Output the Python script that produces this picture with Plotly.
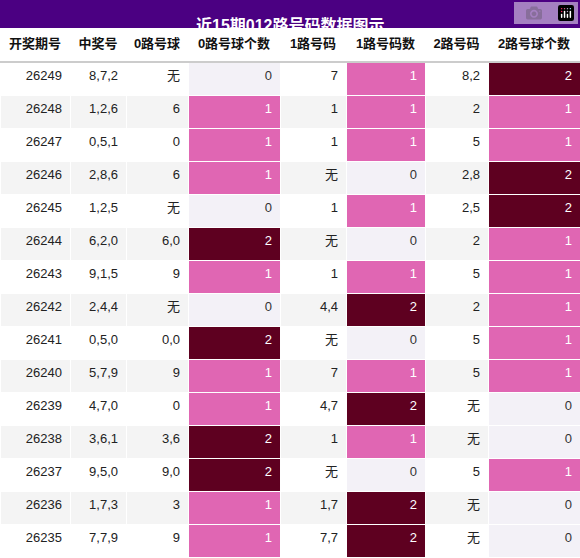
import plotly.graph_objects as go

issues = [str(n) for n in range(26249, 26234, -1)]
winning = ["8,7,2", "1,2,6", "0,5,1", "2,8,6", "1,2,5", "6,2,0", "9,1,5", "2,4,4",
           "0,5,0", "5,7,9", "4,7,0", "3,6,1", "9,5,0", "1,7,3", "7,7,9"]
route0 = ["无", "6", "0", "6", "无", "6,0", "9", "无", "0,0", "9", "0", "3,6", "9,0", "3", "9"]
count0 = [0, 1, 1, 1, 0, 2, 1, 0, 2, 1, 1, 2, 2, 1, 1]
route1 = ["7", "1", "1", "无", "1", "无", "1", "4,4", "无", "7", "4,7", "1", "无", "1,7", "7,7"]
count1 = [1, 1, 1, 0, 1, 0, 1, 2, 0, 1, 2, 1, 0, 2, 2]
route2 = ["8,2", "2", "5", "2,8", "2,5", "2", "5", "2", "5", "5", "无", "无", "5", "无", "无"]
count2 = [2, 1, 1, 2, 2, 1, 1, 1, 1, 1, 0, 0, 1, 0, 0]
headers = ["开奖期号", "中奖号", "0路号球", "0路号球个数", "1路号码", "1路号码数", "2路号码", "2路号球个数"]

row_bg = ["#ffffff" if i % 2 == 0 else "#f4f4f4" for i in range(len(issues))]
count_bg = {0: "#f3f1f7", 1: "#e066b3", 2: "#5e0020"}
count_fg = {0: "#333333", 1: "#ffffff", 2: "#ffffff"}
FONT = "Liberation Sans, Noto Sans CJK SC"


def fill(counts):
    return [count_bg[c] for c in counts]


def fg(counts):
    return [count_fg[c] for c in counts]


plain_fg = ["#222222"] * len(issues)

fig = go.Figure(go.Table(
    columnwidth=[70, 56, 62, 92, 66, 79, 63, 92],
    header=dict(
        values=["<b>%s</b>" % h for h in headers],
        fill_color="white", line_color="white",
        font=dict(family=FONT, size=13, color="#111111"),
        align="center", height=34,
    ),
    cells=dict(
        values=[issues, winning, route0, count0, route1, count1, route2, count2],
        fill_color=[row_bg, row_bg, row_bg, fill(count0), row_bg, fill(count1), row_bg, fill(count2)],
        font=dict(family=FONT, size=13,
                  color=[plain_fg, plain_fg, plain_fg, fg(count0), plain_fg, fg(count1), plain_fg, fg(count2)]),
        line_color="white", align="right", height=33,
    ),
    domain=dict(x=[0, 1], y=[0, 1 - 28 / 558]),
))

fig.add_shape(type="rect", xref="paper", yref="paper", x0=0, x1=1, y0=1 - 28 / 558, y1=1,
              fillcolor="#4b0082", line_width=0)
fig.add_annotation(text="<b>近15期012路号码数据图示</b>", xref="paper", yref="paper",
                   x=0.5, y=1 - 14 / 558, showarrow=False,
                   font=dict(family=FONT, size=16, color="white"))
fig.add_shape(type="line", xref="paper", yref="paper", x0=0, x1=1,
              y0=1 - 62 / 558, y1=1 - 62 / 558, line=dict(color="#999999", width=1))

fig.update_layout(width=580, height=558, margin=dict(l=0, r=0, t=0, b=0),
                  paper_bgcolor="white")
fig.write_html("out.html", post_script="document.body.style.margin='0';")
